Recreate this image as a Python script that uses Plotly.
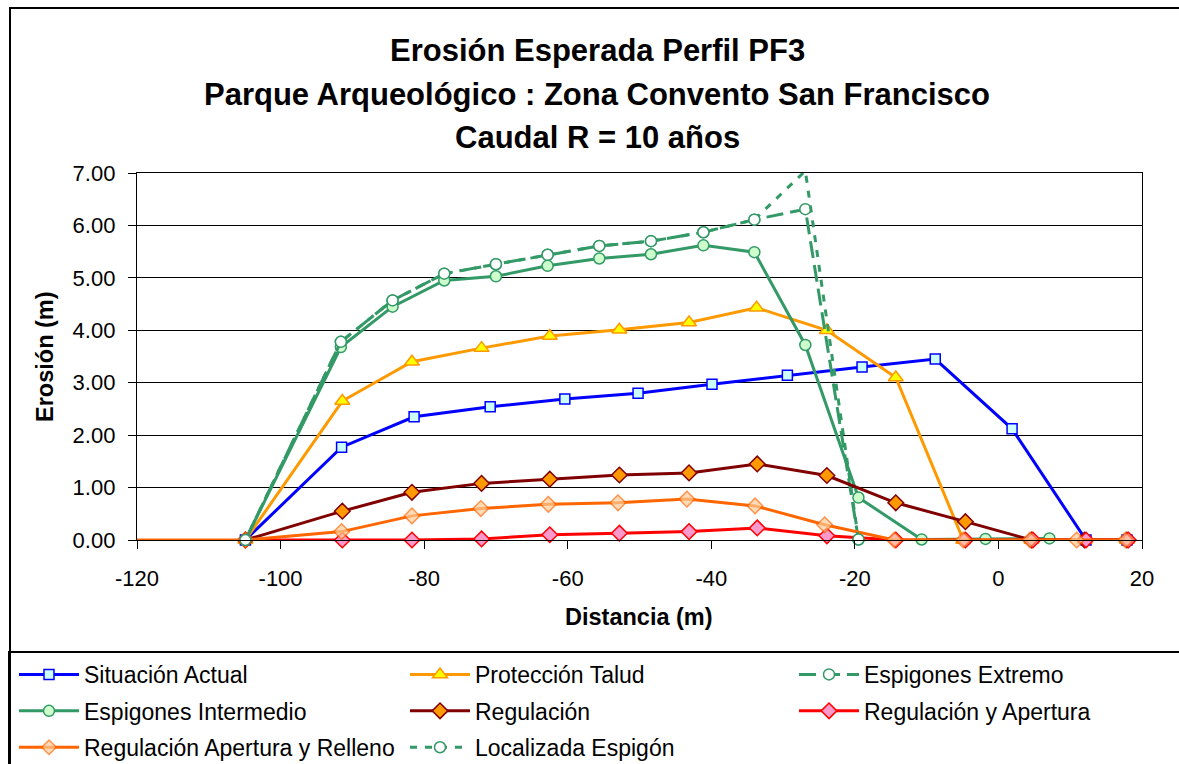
import plotly.graph_objects as go

# ---------------- data ----------------
sa_x = [-104.9, -91.5, -81.4, -70.8, -60.4, -50.2, -39.9, -29.4, -19.0, -8.8, 1.9, 12.2, 17.9]
sa_y = [0.00, 1.77, 2.35, 2.54, 2.69, 2.80, 2.97, 3.14, 3.30, 3.45, 2.12, 0.00, 0.00]

pt_x = [-104.9, -91.4, -81.7, -72.0, -62.5, -52.8, -43.1, -33.7, -23.9, -14.3, -4.9, 4.6, 12.0, 17.9]
pt_y = [0.00, 2.65, 3.40, 3.66, 3.89, 4.01, 4.15, 4.43, 4.00, 3.10, 0.00, 0.00, 0.00, 0.00]

ee_x = [-104.9, -91.6, -84.4, -77.2, -70.0, -62.8, -55.6, -48.4, -41.1, -34.0, -26.9, -19.5]
ee_y = [0.00, 3.78, 4.57, 5.08, 5.26, 5.44, 5.61, 5.70, 5.87, 6.11, 6.31, 0.01]

ei_x = [-104.9, -91.6, -84.4, -77.2, -70.0, -62.8, -55.6, -48.4, -41.1, -34.0, -26.9, -19.5, -10.7, -1.8, 7.1]
ei_y = [0.00, 3.68, 4.45, 4.95, 5.03, 5.23, 5.37, 5.45, 5.62, 5.49, 3.72, 0.81, 0.01, 0.02, 0.03]

rg_x = [-104.9, -91.4, -81.7, -72.0, -62.5, -52.8, -43.1, -33.6, -23.9, -14.3, -4.6, 4.6, 12.0, 17.9]
rg_y = [0.00, 0.55, 0.91, 1.08, 1.16, 1.24, 1.28, 1.45, 1.23, 0.71, 0.35, 0.00, 0.00, 0.00]

ra_x = [-104.9, -91.4, -81.7, -72.0, -62.5, -52.8, -43.1, -33.6, -23.9, -14.3, -4.6, 4.8, 12.2, 18.1]
ra_y = [0.00, 0.00, 0.00, 0.02, 0.10, 0.13, 0.16, 0.23, 0.08, 0.00, 0.00, 0.00, 0.00, 0.00]

rr_x = [-121.0, -104.9, -91.5, -81.7, -72.1, -62.7, -53.0, -43.4, -33.9, -24.2, -14.5, -4.9, 4.4, 10.9, 17.7]
rr_y = [0.00, 0.00, 0.16, 0.46, 0.60, 0.68, 0.71, 0.78, 0.65, 0.29, 0.00, 0.00, 0.00, 0.00, 0.00]

ls_x = [-104.9, -91.6, -84.4, -77.2, -70.0, -62.8, -55.6, -48.4, -41.1, -34.0, -26.9, -19.5]
ls_y = [0.00, 3.78, 4.57, 5.08, 5.26, 5.44, 5.61, 5.70, 5.87, 6.11, 7.04, 0.01]

series_names = ["Situación Actual", "Protección Talud", "Espigones Extremo",
                "Espigones Intermedio", "Regulación", "Regulación y Apertura",
                "Regulación Apertura y Relleno", "Localizada Espigón"]

x_ticks = [-120, -100, -80, -60, -40, -20, 0, 20]
y_ticks = [0, 1, 2, 3, 4, 5, 6, 7]

title_lines = ["Erosión Esperada Perfil PF3",
               "Parque Arqueológico : Zona Convento San Francisco",
               "Caudal R = 10 años"]

# ---------------- figure ----------------
FONT = "Liberation Sans, Arial, sans-serif"
W, H = 1179, 764
ML, MR, MT, MB = 137, 37, 173, 224
PW, PH = W - ML - MR, H - MT - MB

def px2paper_x(px):
    return (px - ML) / PW

def px2paper_y(py):
    return (H - MB - py) / PH

GREEN = "#339966"
LW = 3

styles = [
    dict(line=dict(color="#0000FF", width=LW),
         marker=dict(symbol="square", size=10, color="#CCFFFF", line=dict(color="#0000FF", width=1.5))),
    dict(line=dict(color="#FF9900", width=LW),
         marker=dict(symbol="triangle-up", size=13, color="#FFFF00", line=dict(color="#FF9900", width=1.5))),
    dict(line=dict(color=GREEN, width=LW, dash="17px,7px"),
         marker=dict(symbol="circle", size=11, color="#FFFFFF", line=dict(color=GREEN, width=1.5))),
    dict(line=dict(color=GREEN, width=LW),
         marker=dict(symbol="circle", size=11, color="#CCFFCC", line=dict(color=GREEN, width=1.5))),
    dict(line=dict(color="#800000", width=LW),
         marker=dict(symbol="diamond", size=12, color="#FF9900", line=dict(color="#800000", width=1.5))),
    dict(line=dict(color="#FF0000", width=LW),
         marker=dict(symbol="diamond", size=12, color="#FF99CC", line=dict(color="#FF0000", width=1.5))),
    dict(line=dict(color="#FF6600", width=LW),
         marker=dict(symbol="diamond", size=12, color="#FFCC99", line=dict(color="#FF6600", width=1.5))),
    dict(line=dict(color=GREEN, width=LW, dash="7px,8px"),
         marker=dict(symbol="circle", size=11, color="#FFFFFF", line=dict(color=GREEN, width=1.5))),
]

# legend column of each series (three legend columns, filled row by row)
legend_ids = ["legend", "legend2", "legend3",
              "legend", "legend2", "legend3",
              "legend", "legend2"]

data = [(sa_x, sa_y), (pt_x, pt_y), (ee_x, ee_y), (ei_x, ei_y),
        (rg_x, rg_y), (ra_x, ra_y), (rr_x, rr_y), (ls_x, ls_y)]

fig = go.Figure()
for name, (xs, ys), st, lg in zip(series_names, data, styles, legend_ids):
    marker = dict(st["marker"])
    if name == "Regulación Apertura y Relleno":
        # the lead-in point left of the axis carries no visible marker
        marker["size"] = [0 if x < -120 else marker["size"] for x in xs]
    fig.add_trace(go.Scatter(x=xs, y=ys, name=name, mode="lines+markers",
                             line=st["line"], marker=marker, cliponaxis=False,
                             legend=lg, legendgroup=name))

annotations = []
title_y_px = [50, 95, 137]
for txt, ypx in zip(title_lines, title_y_px):
    annotations.append(dict(text="<b>" + txt + "</b>", xref="paper", yref="paper",
                            x=px2paper_x(597), y=px2paper_y(ypx), xanchor="center", yanchor="middle",
                            showarrow=False, font=dict(family=FONT, size=31, color="black")))
annotations.append(dict(text="<b>Distancia (m)</b>", xref="paper", yref="paper",
                        x=px2paper_x(639), y=px2paper_y(617), xanchor="center", yanchor="middle",
                        showarrow=False, font=dict(family=FONT, size=23.5, color="black")))
annotations.append(dict(text="<b>Erosión (m)</b>", xref="paper", yref="paper",
                        x=px2paper_x(45), y=px2paper_y(357), xanchor="center", yanchor="middle",
                        textangle=-90, showarrow=False, font=dict(family=FONT, size=23.5, color="black")))

shapes = [
    # outer chart frame
    dict(type="rect", xref="paper", yref="paper",
         x0=px2paper_x(10), x1=px2paper_x(1200), y0=px2paper_y(790), y1=px2paper_y(8),
         line=dict(color="black", width=2), fillcolor="rgba(0,0,0,0)", layer="above"),
    # legend frame
    dict(type="rect", xref="paper", yref="paper",
         x0=px2paper_x(9), x1=px2paper_x(1200), y0=px2paper_y(790), y1=px2paper_y(652),
         line=dict(color="black", width=2), fillcolor="rgba(0,0,0,0)", layer="above"),
]

def legend_col(x_px):
    return dict(orientation="v", x=px2paper_x(x_px), y=px2paper_y(653),
                xanchor="left", yanchor="top", itemwidth=60,
                tracegroupgap=3.5, traceorder="grouped",
                font=dict(family=FONT, size=23, color="black"),
                bgcolor="rgba(0,0,0,0)", borderwidth=0)

fig.update_layout(
    width=W, height=H,
    margin=dict(l=ML, r=MR, t=MT, b=MB, autoexpand=False),
    paper_bgcolor="white", plot_bgcolor="white",
    font=dict(family=FONT, color="black"),
    showlegend=True,
    legend=legend_col(14),
    legend2=legend_col(405),
    legend3=legend_col(794),
    annotations=annotations,
    shapes=shapes,
    xaxis=dict(range=[-120, 20], tickmode="array", tickvals=x_ticks,
               ticktext=[str(v) for v in x_ticks],
               showgrid=False, zeroline=False, showline=True, linecolor="black", linewidth=1.3,
               mirror=True, ticks="outside", ticklen=8, tickcolor="black", tickwidth=1.3,
               tickfont=dict(family=FONT, size=22, color="black"), ticklabelstandoff=10),
    yaxis=dict(range=[0, 7], tickmode="array", tickvals=y_ticks,
               ticktext=["%.2f" % v for v in y_ticks],
               showgrid=True, gridcolor="black", gridwidth=1.3, zeroline=False,
               showline=True, linecolor="black", linewidth=1.3, mirror=True,
               ticks="outside", ticklen=8, tickcolor="black", tickwidth=1.3,
               tickfont=dict(family=FONT, size=22, color="black"), ticklabelstandoff=8),
)

fig.write_html("out.html", config={"displayModeBar": False},
               post_script="document.body.style.margin='0';document.body.style.overflow='hidden';")
